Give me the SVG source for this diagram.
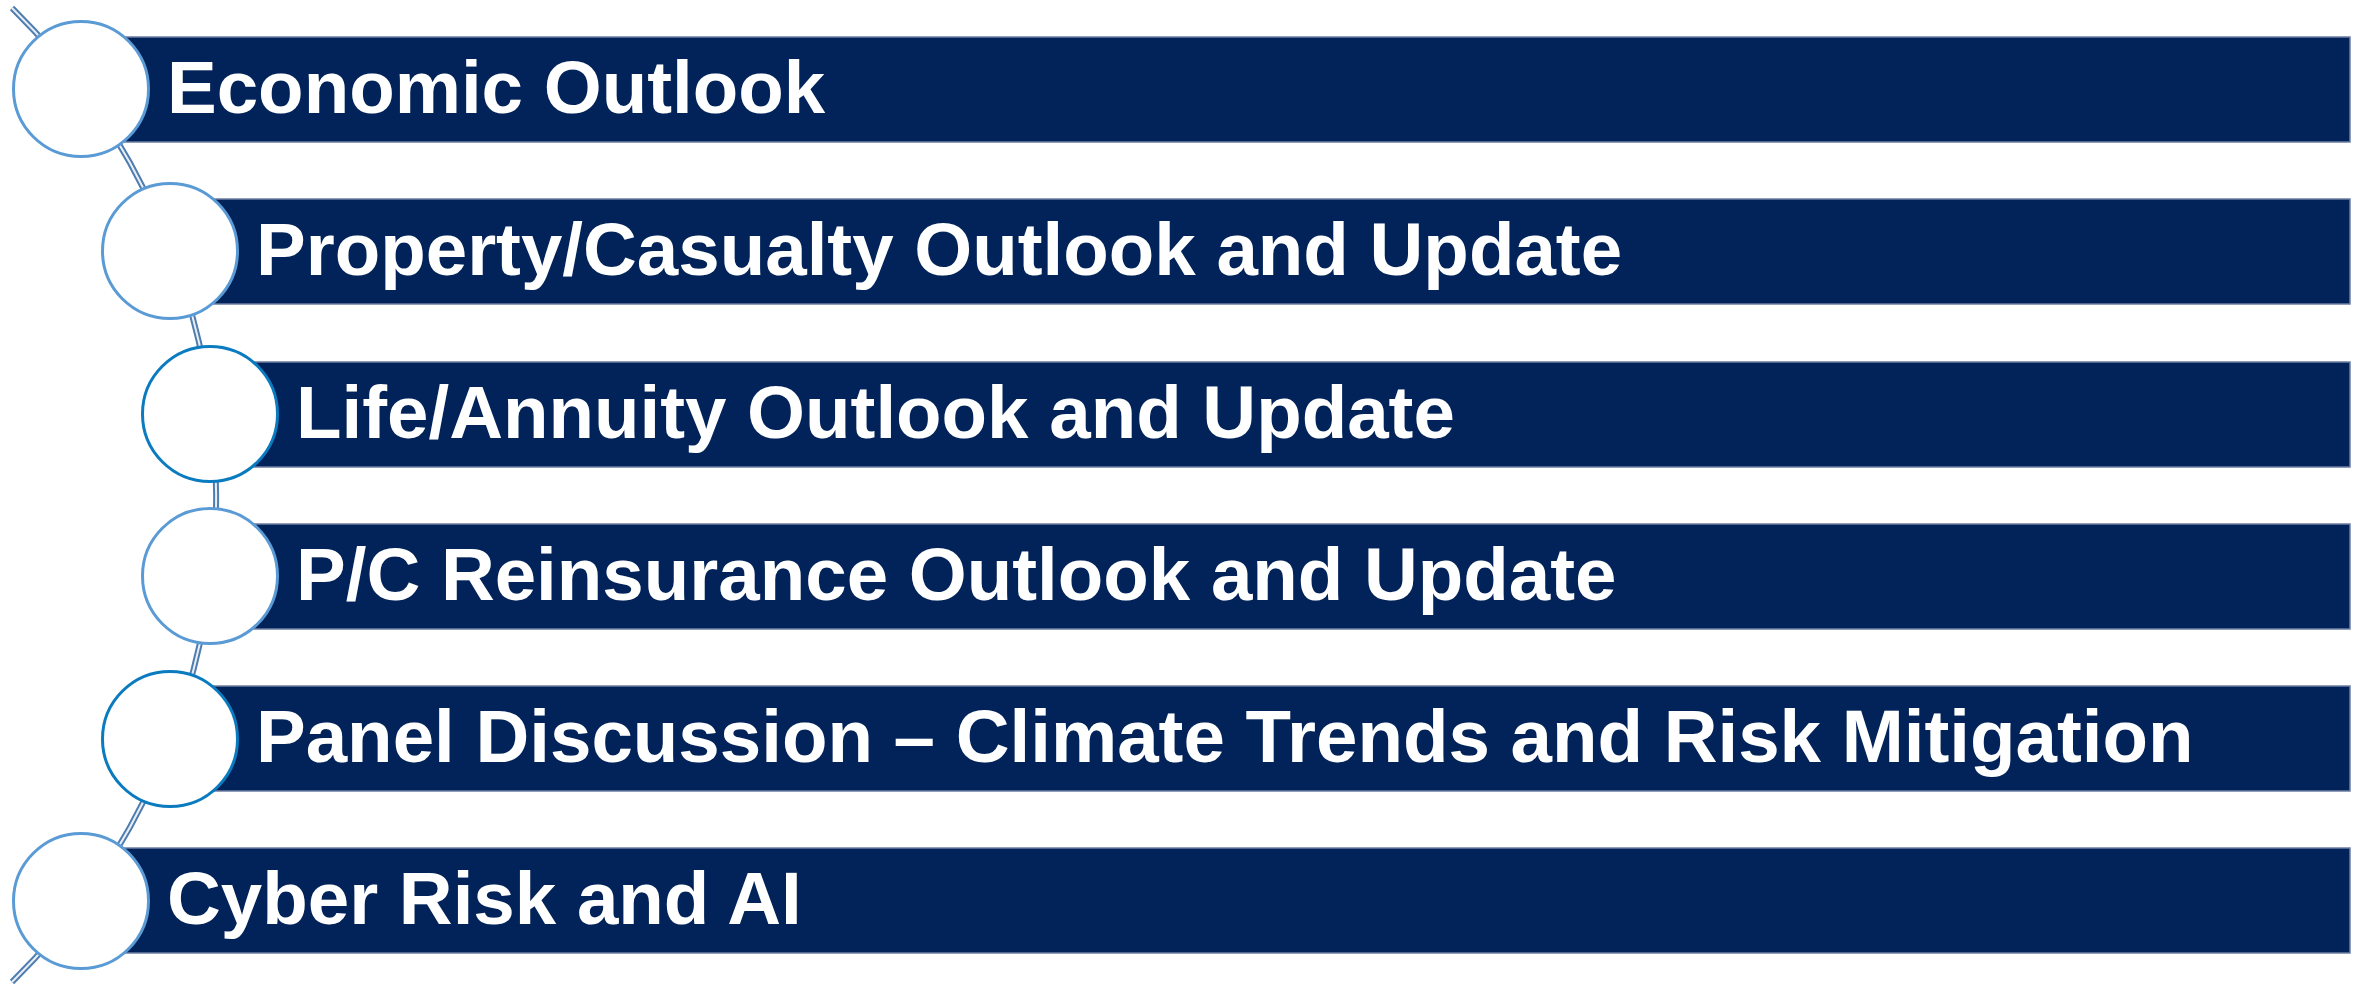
<svg xmlns="http://www.w3.org/2000/svg" width="2367" height="985" viewBox="0 0 2367 985">
  <style>
    .bar { fill: #022359; stroke: #6d7fa3; stroke-width: 1.5; }
    .label { fill: #ffffff; font-family: "Liberation Sans", Arial, sans-serif; font-weight: bold; font-size: 74.5px; }
    .ring-light { fill: #ffffff; stroke: #5b9bd5; stroke-width: 3; }
    .ring-dark { fill: #ffffff; stroke: #0b7bc0; stroke-width: 3; }
    .rail-outer { fill: none; stroke: #4f7db0; stroke-width: 6; }
    .rail-inner { fill: none; stroke: #e8eef6; stroke-width: 2; }
  </style>

  <!-- curved rail linking the steps -->
  <g id="connectors">
    <path class="rail-outer" d="M 12,8 A 683 683 0 0 1 12,982"/>
    <path class="rail-inner" d="M 12,8 A 683 683 0 0 1 12,982"/>
  </g>

  <g id="step1">
    <rect class="bar" x="81" y="37" width="2269" height="105"/>
    <circle class="ring-light" cx="81" cy="89" r="67.5"/>
    <text class="label" x="167" y="113">Economic Outlook</text>
  </g>

  <g id="step2">
    <rect class="bar" x="170" y="199" width="2180" height="105"/>
    <circle class="ring-light" cx="170" cy="251" r="67.5"/>
    <text class="label" x="256" y="275">Property/Casualty Outlook and Update</text>
  </g>

  <g id="step3">
    <rect class="bar" x="210" y="362" width="2140" height="105"/>
    <circle class="ring-dark" cx="210" cy="414" r="67.5"/>
    <text class="label" x="296" y="438">Life/Annuity Outlook and Update</text>
  </g>

  <g id="step4">
    <rect class="bar" x="210" y="524" width="2140" height="105"/>
    <circle class="ring-light" cx="210" cy="576" r="67.5"/>
    <text class="label" x="296" y="600">P/C Reinsurance Outlook and Update</text>
  </g>

  <g id="step5">
    <rect class="bar" x="170" y="686" width="2180" height="105"/>
    <circle class="ring-dark" cx="170" cy="739" r="67.5"/>
    <text class="label" x="256" y="762">Panel Discussion – Climate Trends and Risk Mitigation</text>
  </g>

  <g id="step6">
    <rect class="bar" x="81" y="848" width="2269" height="105"/>
    <circle class="ring-light" cx="81" cy="901" r="67.5"/>
    <text class="label" x="167" y="924">Cyber Risk and AI</text>
  </g>
</svg>
